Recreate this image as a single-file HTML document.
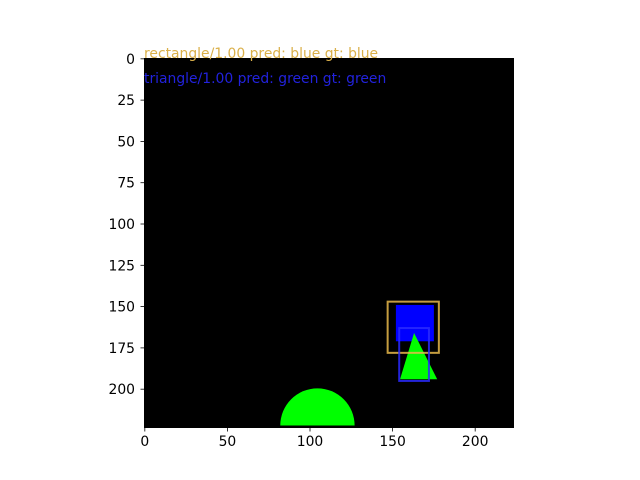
<!DOCTYPE html>
<html><head><meta charset="utf-8"><style>
html,body{margin:0;padding:0;background:#fff;width:640px;height:480px;overflow:hidden}
svg{font-family:"DejaVu Sans","Liberation Sans",sans-serif}
</style></head><body>
<svg id="chart" width="640" height="480" viewBox="0 0 640 480" xmlns="http://www.w3.org/2000/svg"></svg>
<script>
const xTicks = [0, 50, 100, 150, 200];
const yTicks = [0, 25, 50, 75, 100, 125, 150, 175, 200];
// filled shapes (data/pixel units of the 224x224 image)
const rectFill = [152, 149, 175, 171];        // x0,y0,x1,y1 blue rectangle
const triangle = [163, 166, 154.5, 177, 194]; // apexX, apexY, baseX0, baseX1, baseY
const semicircle = [104.5, 222, 22.5];        // cx, cy, r
// boxes
const boxes = [[147, 147, 178, 178], [154, 163, 172, 195]];
const boxColors = ['#e8b84a', '#2a2aff'];
const labels = ['rectangle/1.00 pred: blue gt: blue', 'triangle/1.00 pred: green gt: green'];
const labelColors = ['#dab04a', '#2222dd'];

const NS = 'http://www.w3.org/2000/svg';
const svg = document.getElementById('chart');
const L = 144, T = 58, S = 370 / 224;
const X = u => L + (u + 0.5) * S;
const Y = v => T + (v + 0.5) * S;
function mk(tag, attrs, parent) { const e = document.createElementNS(NS, tag); for (const k in attrs) e.setAttribute(k, attrs[k]); (parent || svg).appendChild(e); return e; }

const clip = mk('clipPath', {id: 'c'});
mk('rect', {x: L, y: T, width: 370, height: 370}, clip);
const bg = mk('rect', {x: L, y: T, width: 370, height: 370, fill: '#000'});


const g = mk('g', {'clip-path': 'url(#c)'});



const r = mk('rect', {x: X(rectFill[0]), y: Y(rectFill[1]), width: (rectFill[2] - rectFill[0]) * S, height: (rectFill[3] - rectFill[1]) * S, fill: '#0000ff'}, g);



const [cx, cy, rr] = semicircle;
const sc = mk('path', {d: `M${X(cx - rr)},${Y(cy)} A${rr * S},${rr * S} 0 0 1 ${X(cx + rr)},${Y(cy)} Z`, fill: '#00ff00'}, g);



const tri = mk('polygon', {points: `${X(triangle[0])},${Y(triangle[1])} ${X(triangle[3])},${Y(triangle[4])} ${X(triangle[2])},${Y(triangle[4])}`, fill: '#00ff00'}, g);



boxes.forEach((b, i) => {
  const e = mk('rect', {x: X(b[0]), y: Y(b[1]), width: (b[2] - b[0]) * S, height: (b[3] - b[1]) * S, fill: 'none', stroke: boxColors[i], 'stroke-width': 2, opacity: 0.85}, g);
  
  
});

labels.forEach((t, i) => {
  const e = mk('text', {x: 144, y: 58 + i * 25, fill: labelColors[i], 'font-size': 13.9});
  e.textContent = t;
  
  
});

xTicks.forEach(v => {
  const x = X(v);
  const tk = mk('line', {x1: x, x2: x, y1: 428, y2: 431.5, stroke: '#000', 'stroke-width': 0.8});
  
  
  const t = mk('text', {x: x, y: 446, 'text-anchor': 'middle', 'font-size': 13.9, fill: '#000'});
  t.textContent = v;
  
  
});
yTicks.forEach(v => {
  const y = Y(v);
  const tk = mk('line', {x1: 140.5, x2: 144, y1: y, y2: y, stroke: '#000', 'stroke-width': 0.8});
  
  
  const t = mk('text', {x: 135, y: y + 5, 'text-anchor': 'end', 'font-size': 13.9, fill: '#000'});
  t.textContent = v;
  
  
});
</script>
</body></html>
